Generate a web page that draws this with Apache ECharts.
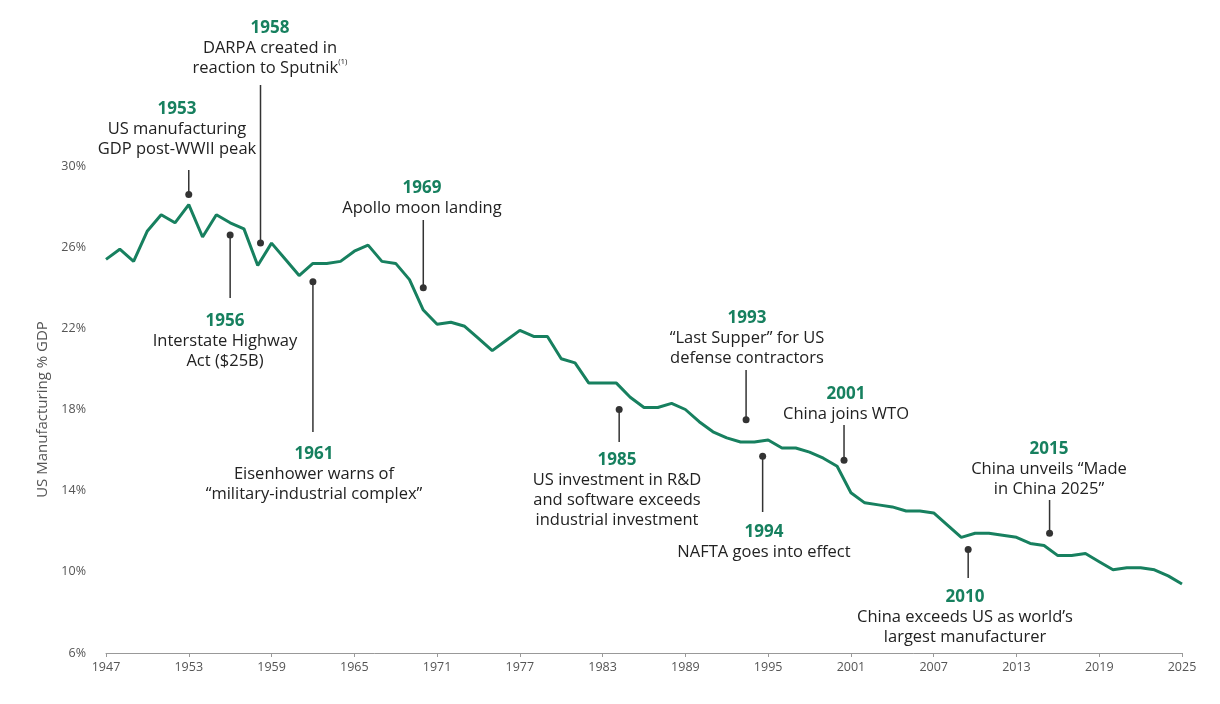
<!DOCTYPE html>
<html>
<head>
<meta charset="utf-8">
<script src="https://cdn.jsdelivr.net/npm/echarts@6/dist/echarts.min.js"></script>
<style>html,body{margin:0;padding:0;background:#fff}#chart{width:1220px;height:704px}</style>
</head>
<body>
<div id="chart"></div>
<script>
// data
var years = [];
for (var y = 1947; y <= 2025; y++) years.push(y);
var values = [25.4,25.9,25.3,26.8,27.6,27.2,28.1,26.5,27.6,27.2,26.9,25.1,26.2,25.4,24.6,25.2,25.2,25.3,25.8,26.1,
  25.3,25.2,24.4,22.9,22.2,22.3,22.1,21.5,20.9,21.4,21.9,21.6,21.6,20.5,20.3,19.3,19.3,19.3,18.6,18.1,
  18.1,18.3,18.0,17.4,16.9,16.6,16.4,16.4,16.5,16.1,16.1,15.9,15.6,15.2,13.9,13.4,13.3,13.2,13.0,13.0,
  12.9,12.3,11.7,11.9,11.9,11.8,11.7,11.4,11.3,10.8,10.8,10.9,10.5,10.1,10.2,10.2,10.1,9.8,9.4];
var baseYear = 1947;

// annotations: dot year/value, label year, body lines
var annYears  = [1953, 1958.2, 1956, 1962, 1970, 1984.2, 1993.4, 1994.6, 2000.5, 2009.5, 2015.4];
var annValues = [28.6, 26.2, 26.6, 24.3, 24.0, 18.0, 17.5, 15.7, 15.5, 11.1, 11.9];
var annTitles = ['1953','1958','1956','1961','1969','1985','1993','1994','2001','2010','2015'];
var annTexts = [
  ['US manufacturing','GDP post-WWII peak'],
  ['DARPA created in','reaction to Sputnik{s|(1)}'],
  ['Interstate Highway','Act ($25B)'],
  ['Eisenhower warns of','\u201cmilitary-industrial complex\u201d'],
  ['Apollo moon landing'],
  ['US investment in R&D','and software exceeds','industrial investment'],
  ['\u201cLast Supper\u201d for US','defense contractors'],
  ['NAFTA goes into effect'],
  ['China joins WTO'],
  ['China exceeds US as world\u2019s','largest manufacturer'],
  ['China unveils \u201cMade','in China 2025\u201d']
];
// layout of labels (pixels): text centre x, title top y, line end y
var annTextX = [177, 270, 225, 314, 422, 617, 747, 764, 846, 965, 1049];
var annTextY = [99, 18, 311, 444, 178, 450, 308, 522, 384, 587, 439];
var annLineEnd = [170, 85, 298, 432, 220, 442, 370, 512, 425, 578, 500];

var green = '#17805f';
var chart = echarts.init(document.getElementById('chart'));
chart.setOption({
  animation: false,
  grid: {left: 106, right: 38, top: 166, bottom: 51},
  xAxis: {
    type: 'value', min: 0, max: 78, interval: 6,
    axisLine: {lineStyle: {color: '#999'}},
    axisTick: {show: true, length: 4, lineStyle: {color: '#999'}},
    splitLine: {show: false},
    axisLabel: {color: '#555', fontSize: 12.5, fontFamily: 'Open Sans', formatter: function (v) { return v + baseYear; }}
  },
  yAxis: {
    type: 'value', min: 6, max: 30, interval: 4,
    name: 'US Manufacturing % GDP', nameLocation: 'middle', nameGap: 56,
    nameTextStyle: {color: '#555', fontSize: 15, fontFamily: 'Open Sans'},
    axisLine: {show: false}, axisTick: {show: false}, splitLine: {show: false},
    axisLabel: {color: '#555', fontSize: 12.5, fontFamily: 'Open Sans', formatter: '{value}%', margin: 20}
  },
  series: [{
    type: 'line', symbol: 'none',
    lineStyle: {color: green, width: 3},
    data: years.map(function (yr, i) { return [yr - baseYear, values[i]]; })
  }]
});

var g = [];
annYears.forEach(function (yr, i) {
  var p = chart.convertToPixel({gridIndex: 0}, [yr - baseYear, annValues[i]]);
  g.push({type: 'line', shape: {x1: p[0], y1: p[1], x2: p[0], y2: annLineEnd[i]}, style: {stroke: '#333', lineWidth: 1.5}, z: 10});
  g.push({type: 'circle', shape: {cx: p[0], cy: p[1], r: 3.5}, style: {fill: '#333'}, z: 11});
  g.push({type: 'text', x: annTextX[i], y: annTextY[i], z: 12, style: {
    text: '{t|' + annTitles[i] + '}\n' + annTexts[i].map(function (l) {
      return '{b|' + l.replace('{s|(1)}', '}{s|(1)}{b|') + '}';
    }).join('\n'),
    align: 'center', verticalAlign: 'top',
    rich: {
      t: {fontSize: 17, fontWeight: 'bold', fill: green, fontFamily: 'Open Sans', lineHeight: 20, align: 'center'},
      b: {fontSize: 16.5, fill: '#222', fontFamily: 'Open Sans', lineHeight: 20},
      s: {fontSize: 8, fill: '#222', fontFamily: 'Open Sans', verticalAlign: 'top', lineHeight: 20, padding: [0, 0, 8, 0]}
    }
  }});
});
chart.setOption({graphic: g});
</script>
</body>
</html>
